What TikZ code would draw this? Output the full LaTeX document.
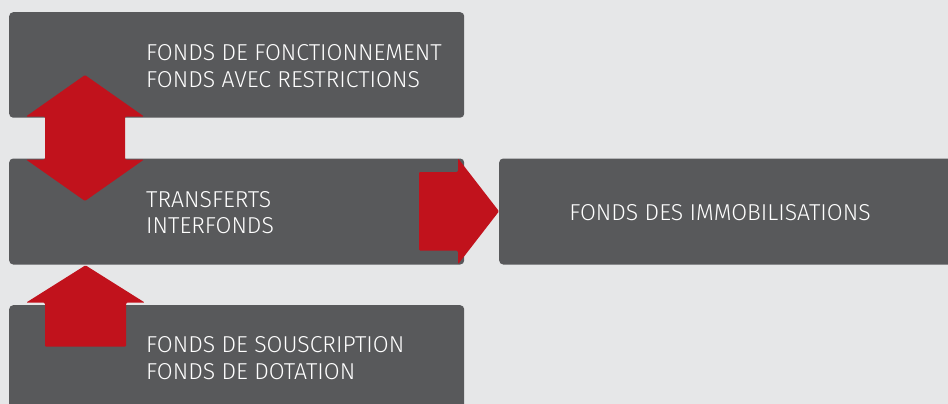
\documentclass[tikz,border=0pt]{standalone}
\usepackage{fontspec}
\setmainfont{Fira Sans Light}
\definecolor{bg}{RGB}{230,231,232}
\definecolor{boxgray}{RGB}{88,89,91}
\definecolor{arrowred}{RGB}{193,18,28}
\tikzset{
  fundbox/.style={fill=boxgray, rounded corners=4pt, draw=none, inner sep=0pt, anchor=north west},
  fundtext/.style={text=white, inner sep=0pt, font=\fontsize{23}{27}\selectfont},
  blockarrow/.style={fill=arrowred, draw=none, rounded corners=1.2pt}
}
\begin{document}
\begin{tikzpicture}[x=1pt,y=-1pt]
\fill[bg] (0,0) rectangle (948,404);
\useasboundingbox (0,0) rectangle (948,404);
\clip (0,0) rectangle (948,404);
% boxes
\node[fundbox, minimum width=455pt, minimum height=105.5pt] (b1) at (9,12) {};
\node[fundbox, minimum width=455pt, minimum height=106pt] (b2) at (9,158.3) {};
\node[fundbox, minimum width=455pt, minimum height=120pt] (b3) at (9,305) {};
\node[fundbox, minimum width=470pt, minimum height=106pt] (b4) at (499,158.3) {};
% texts
\node[fundtext, anchor=base west] (t1a) at (146,60.5) {FONDS DE FONCTIONNEMENT};
\node[fundtext, anchor=base west] (t1b) at (146,87.3) {FONDS AVEC RESTRICTIONS};
\node[fundtext, anchor=base west] (t2a) at (146,207.3) {TRANSFERTS};
\node[fundtext, anchor=base west] (t2b) at (146,233.3) {INTERFONDS};
\node[fundtext, anchor=base west] (t3a) at (146,352.7) {FONDS DE SOUSCRIPTION};
\node[fundtext, anchor=base west] (t3b) at (146,379) {FONDS DE DOTATION};
\node[fundtext, anchor=base] (t4) at (720,220) {FONDS DES IMMOBILISATIONS};
% double arrow between b1 and b2
\fill[blockarrow] (85,75) -- (144,116.5) -- (125,116.5) -- (125,159.5) -- (144,159.5)
  -- (85,201) -- (26,159.5) -- (45,159.5) -- (45,116.5) -- (26,116.5) -- cycle;
% up arrow from b3 to b2
\fill[blockarrow] (85.5,265.3) -- (145,302.7) -- (126,302.7) -- (126,346.7)
  -- (45,346.7) -- (45,302.7) -- (26,302.7) -- cycle;
% right arrow from b2 to b4
\fill[blockarrow] (419,172) -- (458,172) -- (458,158.3) -- (499,211.3) -- (458,264.3)
  -- (458,250.7) -- (419,250.7) -- cycle;
\end{tikzpicture}
\end{document}
